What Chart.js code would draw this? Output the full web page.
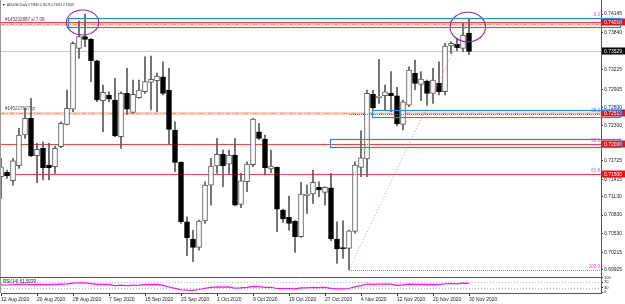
<!DOCTYPE html>
<html>
<head>
<meta charset="utf-8">
<script src="https://cdn.jsdelivr.net/npm/chart.js@4.4.1/dist/chart.umd.min.js"></script>
<style>
  html, body { margin: 0; padding: 0; background: #fff; }
  canvas { display: block; }
</style>
</head>
<body>
<canvas id="chart" width="625" height="304"></canvas>
<script>
// AUDUSD daily, 12 Aug 2020 .. 30 Nov 2020 (one entry per bar)
const opens = [
  0.71462, 0.71535, 0.71396, 0.71644, 0.72150, 0.72425, 0.71808, 0.71930, 0.71655, 0.71627,
  0.71957, 0.72326, 0.72578, 0.73579, 0.73771, 0.73728, 0.73375, 0.72715, 0.72809, 0.72727,
  0.72122, 0.72837, 0.72524, 0.72765, 0.72864, 0.73019, 0.73048, 0.73111, 0.72892, 0.72232,
  0.71700, 0.70720, 0.70435, 0.70298, 0.70732, 0.71325, 0.71639, 0.71831, 0.71671, 0.71820,
  0.71007, 0.71380, 0.71660, 0.72204, 0.72084, 0.71589, 0.71617, 0.70913, 0.70793, 0.70732,
  0.70473, 0.71149, 0.71177, 0.71287, 0.71205, 0.71281, 0.70435, 0.70285, 0.70280, 0.70560,
  0.71617, 0.71754, 0.72821, 0.72765, 0.72798, 0.72837, 0.72798, 0.72326, 0.72644, 0.73167,
  0.72986, 0.73040, 0.72837, 0.73002, 0.72864, 0.73617, 0.73645, 0.73579, 0.73830
];
const highs = [
  0.71765, 0.71573, 0.71765, 0.72260, 0.72590, 0.72755, 0.72013, 0.72039, 0.72013, 0.71968,
  0.72369, 0.72892, 0.73688, 0.74030, 0.74145, 0.73744, 0.73386, 0.72974, 0.72864, 0.73085,
  0.72864, 0.73250, 0.73057, 0.73057, 0.73441, 0.73452, 0.73172, 0.73358, 0.73250, 0.72369,
  0.71709, 0.70802, 0.70583, 0.70748, 0.71380, 0.71765, 0.72095, 0.71902, 0.71902, 0.72095,
  0.71518, 0.71709, 0.72425, 0.72343, 0.72150, 0.71902, 0.71627, 0.70929, 0.71144, 0.70740,
  0.71370, 0.71325, 0.71573, 0.71380, 0.71297, 0.71518, 0.70720, 0.70736, 0.70583, 0.71709,
  0.72221, 0.72892, 0.72892, 0.73398, 0.72974, 0.73194, 0.72936, 0.72727, 0.73276, 0.73386,
  0.73194, 0.73057, 0.73250, 0.73358, 0.73662, 0.73688, 0.73744, 0.73992, 0.74074
];
const lows = [
  0.71106, 0.71436, 0.71325, 0.71601, 0.72095, 0.71792, 0.71363, 0.71408, 0.71408, 0.71518,
  0.71940, 0.72315, 0.72534, 0.73414, 0.73606, 0.73029, 0.72699, 0.72204, 0.72699, 0.72122,
  0.71930, 0.72491, 0.72508, 0.72755, 0.72837, 0.72562, 0.72534, 0.72809, 0.72001, 0.71544,
  0.70694, 0.70159, 0.70060, 0.70253, 0.70694, 0.70995, 0.71518, 0.71297, 0.71518, 0.70980,
  0.70951, 0.71215, 0.71627, 0.72079, 0.71490, 0.71528, 0.70555, 0.70710, 0.70583, 0.70215,
  0.70460, 0.70859, 0.71023, 0.71132, 0.70995, 0.70407, 0.70034, 0.70116, 0.69925, 0.70530,
  0.71462, 0.71462, 0.72562, 0.72672, 0.72562, 0.72534, 0.72300, 0.72232, 0.72616, 0.72892,
  0.72715, 0.72644, 0.72672, 0.72809, 0.72809, 0.73497, 0.73540, 0.73523, 0.73474
];
const closes = [
  0.71627, 0.71479, 0.71726, 0.72150, 0.72425, 0.71808, 0.71914, 0.71610, 0.71610, 0.71930,
  0.72343, 0.72590, 0.73662, 0.73771, 0.73728, 0.73375, 0.72727, 0.72854, 0.72743, 0.72133,
  0.72837, 0.72578, 0.72821, 0.72892, 0.73029, 0.73068, 0.73123, 0.72837, 0.72244, 0.71700,
  0.70720, 0.70456, 0.70298, 0.70732, 0.71325, 0.71639, 0.71831, 0.71639, 0.71820, 0.70995,
  0.71396, 0.71671, 0.72414, 0.72095, 0.71610, 0.71639, 0.70929, 0.70765, 0.70694, 0.70473,
  0.71177, 0.71177, 0.71370, 0.71243, 0.71287, 0.70435, 0.70270, 0.70276, 0.70572, 0.71655,
  0.71775, 0.72837, 0.72600, 0.72793, 0.72864, 0.72798, 0.72331, 0.72699, 0.73222, 0.73002,
  0.73073, 0.72837, 0.73057, 0.72864, 0.73617, 0.73662, 0.73589, 0.73799, 0.73529
];
const rsi = [
  51, 50, 52, 55, 57, 53, 54, 52, 52, 54,
  56, 58, 64, 66, 65, 60, 54, 55, 53, 46,
  49, 45, 47, 49, 53, 53, 54, 47, 36, 26,
  16, 13, 12, 18, 27, 33, 37, 35, 37, 27,
  30, 33, 40, 38, 33, 34, 25, 24, 24, 22,
  30, 30, 33, 32, 33, 26, 23, 23, 25, 38,
  45, 57, 55, 56, 57, 56, 48, 51, 56, 54,
  55, 52, 55, 53, 59, 60, 58, 63, 61.5039
];

const dateTicks = ['12 Aug 2020', '20 Aug 2020', '28 Aug 2020', '7 Sep 2020', '15 Sep 2020', '23 Sep 2020',
  '1 Oct 2020', '9 Oct 2020', '19 Oct 2020', '27 Oct 2020', '4 Nov 2020', '12 Nov 2020', '20 Nov 2020', '30 Nov 2020'];
const priceTicks = [0.74145, 0.73840, 0.73225, 0.72905, 0.72600, 0.72300, 0.71725, 0.71415,
  0.71130, 0.70830, 0.70530, 0.70215, 0.69925];
const rsiTicks = [0, 30, 70, 100];
const rsiLevels = [30, 70];

// drawn objects, in bars / prices
const redLines = [0.74010, 0.72000, 0.71500];
const orderLines = [0.73975, 0.72512];
const orderTexts = ['#145232887 sl 7.08', '#145227607 tp'];
const redTags = [0.74010, 0.72512, 0.72000, 0.71500];
const bidPrice = 0.73529;
const boxes = [ // from bar, to bar, top price, bottom price
  [11.2, 103.2, 0.74074, 0.73926],
  [61.9, 103.2, 0.72562, 0.72442],
  [54.8, 103.2, 0.72079, 0.71947],
];
const ellipses = [ // bar, price, half width in bars, half height in price
  [13.6, 0.74005, 2.7, 0.00206],
  [77.8, 0.73931, 2.95, 0.00244],
];
const fibFrom = [58, 0.69925];
const fibTo = [78, 0.74074];
const fibLevels = [0, 38.2, 50, 61.8, 100];

Chart.defaults.font.family = '"Liberation Sans", Arial, sans-serif';

const bars = opens.map((o, i) => i);
const bull = bars.map(i => closes[i] >= opens[i]);

function crisp(v) { return Math.round(v) + 0.5 }

function hline(ctx, x1, x2, y, color, width, dash) {
  ctx.beginPath();
  ctx.strokeStyle = color;
  ctx.lineWidth = width;
  ctx.setLineDash(dash || []);
  ctx.moveTo(x1, crisp(y));
  ctx.lineTo(x2, crisp(y));
  ctx.stroke();
}

const overlay = {
  id: 'overlay',
  beforeDatasetsDraw(chart) {
    const { ctx, chartArea: a, scales: { y, yRsi } } = chart;
    ctx.save();
    ctx.beginPath();
    ctx.rect(a.left, y.top, a.right - a.left, y.bottom - y.top);
    ctx.clip();
    hline(ctx, a.left, a.right, y.getPixelForValue(bidPrice), '#c8c8c8', 1);
    orderLines.forEach(p => {
      const py = y.getPixelForValue(p);
      hline(ctx, a.left, a.right, py, '#ffd2c4', 3);
      hline(ctx, a.left, a.right, py, '#f49a82', 1, [4, 2, 1, 2]);
    });
    redLines.forEach(p => hline(ctx, a.left, a.right, y.getPixelForValue(p), '#ff4040', 1));
    ctx.restore();

    ctx.save();
    rsiLevels.forEach(v => hline(ctx, a.left, a.right, yRsi.getPixelForValue(v), '#b0b0b0', 1, [1, 2]));
    ctx.restore();
  },
  afterDatasetsDraw(chart) {
    const { ctx, chartArea: a, scales: { x, y } } = chart;
    ctx.save();
    ctx.beginPath();
    ctx.rect(a.left, y.top, a.right - a.left, y.bottom - y.top);
    ctx.clip();
    // fibo retracement
    const range = fibTo[1] - fibFrom[1];
    const fx = x.getPixelForValue(fibFrom[0]);
    fibLevels.forEach(l => {
      const price = fibTo[1] - range * l / 100;
      const color = l === 0 ? '#1a1aa8' : (l === 100 ? '#e860e8' : '#ff2a7a');
      hline(ctx, fx, a.right, y.getPixelForValue(price), color, 1, [1, 1]);
    });
    ctx.beginPath();
    ctx.strokeStyle = '#f070f0';
    ctx.lineWidth = 1;
    ctx.setLineDash([1, 2]);
    ctx.moveTo(fx, y.getPixelForValue(fibFrom[1]));
    ctx.lineTo(x.getPixelForValue(fibTo[0]), y.getPixelForValue(fibTo[1]));
    ctx.stroke();
    ctx.setLineDash([]);

    // ellipses
    ellipses.forEach(([b, p, hb, hp]) => {
      const cx = x.getPixelForValue(b), cy = y.getPixelForValue(p);
      const rx = x.getPixelForValue(b + hb) - cx, ry = cy - y.getPixelForValue(p + hp);
      ctx.beginPath();
      ctx.strokeStyle = '#8e2a9a';
      ctx.lineWidth = 1.1;
      ctx.ellipse(cx, cy, rx, ry, 0, 0, Math.PI * 2);
      ctx.stroke();
    });

    // texts
    ctx.font = '4.5px "Liberation Sans", Arial, sans-serif';
    ctx.fillStyle = '#444';
    ctx.textAlign = 'left';
    ctx.textBaseline = 'bottom';
    orderLines.forEach((p, k) => {
      ctx.fillText(orderTexts[k], a.left + 4, y.getPixelForValue(p) - 2);
    });
    ctx.fillStyle = '#e040e0';
    ctx.textAlign = 'right';
    fibLevels.forEach(l => {
      const price = fibTo[1] - range * l / 100;
      ctx.fillText(l.toFixed(1), a.right - 1, y.getPixelForValue(price) - 1);
    });
    ctx.restore();
  },
  afterDraw(chart) {
    const { ctx, chartArea: a, scales: { x, y, yRsi } } = chart;
    ctx.save();
    // frame
    ctx.strokeStyle = '#9a9a9a';
    ctx.lineWidth = 1;
    ctx.beginPath();
    ctx.moveTo(0.5, 0); ctx.lineTo(0.5, a.bottom);
    ctx.stroke();
    hline(ctx, 0, a.right, y.bottom, '#555', 1);

    // price tags on the axis
    ctx.font = '5px "Liberation Sans", Arial, sans-serif';
    ctx.textAlign = 'left';
    ctx.textBaseline = 'middle';
    const tag = (p, bg) => {
      const py = Math.round(y.getPixelForValue(p));
      ctx.fillStyle = bg;
      ctx.fillRect(a.right + 1, py - 3.5, 625 - a.right - 1, 7);
      ctx.fillStyle = '#fff';
      ctx.fillText(p.toFixed(5), a.right + 3, py + 0.5);
    };
    redTags.forEach(p => tag(p, '#f01010'));
    tag(bidPrice, '#000');

    // rectangles
    ctx.strokeStyle = '#1c8fe6';
    ctx.lineWidth = 1.2;
    boxes.forEach(([b1, b2, p1, p2]) => {
      const x1 = x.getPixelForValue(b1), x2 = x.getPixelForValue(b2);
      const y1 = y.getPixelForValue(p1), y2 = y.getPixelForValue(p2);
      ctx.strokeRect(Math.round(x1) + 0.5, Math.round(y1) + 0.5, Math.round(x2 - x1), Math.round(y2 - y1));
    });

    // title + indicator label
    ctx.fillStyle = '#222';
    ctx.textBaseline = 'middle';
    ctx.font = '3.6px "Liberation Sans", Arial, sans-serif';
    ctx.fillText('\u25BC', 2, 5);
    ctx.font = '3px "Liberation Sans", Arial, sans-serif';
    ctx.fillText('AUDUSD,Daily 0.73830 0.74074 0.73474 0.73529', 7, 5);
    ctx.font = '4.5px "Liberation Sans", Arial, sans-serif';
    ctx.fillText('RSI(14) 61.5039', 3, yRsi.top + 5);
    ctx.restore();
  }
};

function fixWidth(scale) {
  scale.width = 24;
  scale.paddingTop = 0;
  scale.paddingBottom = 0;
}

new Chart(document.getElementById('chart'), {
  type: 'bar',
  data: {
    datasets: [
      {
        type: 'line',
        label: 'RSI(14)',
        data: bars.map(i => ({ x: i, y: rsi[i] })),
        yAxisID: 'yRsi',
        borderColor: '#ff10ff',
        borderWidth: 1.2,
        pointRadius: 0,
        order: 0,
      },
      {
        label: 'body',
        data: bars.map(i => ({ x: i, y: [opens[i], closes[i]] })),
        yAxisID: 'y',
        backgroundColor: bars.map(i => bull[i] ? '#fff' : '#000'),
        borderColor: bars.map(i => bull[i] ? '#5a5a5a' : '#000'),
        borderWidth: 1,
        borderSkipped: false,
        barThickness: 5,
        minBarLength: 1,
        grouped: false,
        order: 1,
      },
      {
        label: 'wick',
        data: bars.map(i => ({ x: i, y: [lows[i], highs[i]] })),
        yAxisID: 'y',
        backgroundColor: '#5a5a5a',
        borderWidth: 0,
        barThickness: 1,
        grouped: false,
        order: 2,
      },
    ],
  },
  options: {
    responsive: false,
    animation: false,
    layout: { padding: { left: 1, top: 0, right: 0, bottom: 0 } },
    plugins: { legend: { display: false }, tooltip: { enabled: false } },
    scales: {
      x: {
        type: 'linear',
        min: 0,
        max: 100,
        offset: false,
        afterBuildTicks: s => { s.ticks = dateTicks.map((_, k) => ({ value: k * 6 })) },
        afterFit: s => { s.height = 11; s.paddingLeft = 0; s.paddingRight = 0 },
        ticks: {
          callback: (v, k) => dateTicks[k],
          autoSkip: false,
          maxRotation: 0,
          align: 'start',
          padding: 1,
          color: '#222',
          font: { size: 5 },
        },
        grid: { drawOnChartArea: false, offset: false, tickLength: 3, color: '#333' },
        border: { display: true, color: '#555' },
      },
      y: {
        type: 'linear',
        position: 'right',
        stack: 'panes',
        stackWeight: 277,
        min: 0.69809,
        max: 0.74376,
        afterBuildTicks: s => { s.ticks = priceTicks.map(v => ({ value: v })) },
        afterFit: fixWidth,
        ticks: {
          callback: v => v.toFixed(5),
          autoSkip: false,
          padding: 1,
          color: '#222',
          font: { size: 5 },
        },
        grid: { drawOnChartArea: false, tickLength: 2, color: '#333' },
        border: { display: true, color: '#555' },
      },
      yRsi: {
        type: 'linear',
        position: 'right',
        stack: 'panes',
        stackWeight: 16,
        min: -7,
        max: 107,
        afterBuildTicks: s => { s.ticks = rsiTicks.map(v => ({ value: v })) },
        afterFit: fixWidth,
        ticks: {
          callback: v => String(v),
          autoSkip: false,
          padding: 1,
          color: '#222',
          font: { size: 4 },
        },
        grid: { drawOnChartArea: false, tickLength: 2, color: '#333' },
        border: { display: true, color: '#555' },
      },
    },
  },
  plugins: [overlay],
});
</script>
</body>
</html>
